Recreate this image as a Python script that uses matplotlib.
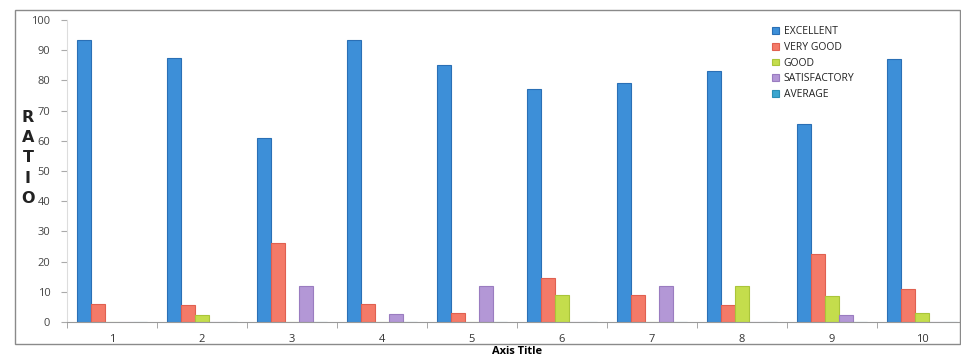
import numpy as np
import matplotlib
matplotlib.use("Agg")
import matplotlib.pyplot as plt
from matplotlib.patches import Rectangle

plt.rcParams["font.family"] = ["Open Sans", "DejaVu Sans"]

categories = ["1", "2", "3", "4", "5", "6", "7", "8", "9", "10"]
series_names = ["EXCELLENT", "VERY GOOD", "GOOD", "SATISFACTORY", "AVERAGE"]
excellent    = [93.5, 87.5, 61, 93.5, 85, 77, 79, 83, 65.5, 87]
very_good    = [6, 5.5, 26, 6, 3, 14.5, 9, 5.5, 22.5, 11]
good         = [0, 2.3, 0, 0, 0, 9, 0, 12, 8.5, 3]
satisfactory = [0, 0, 12, 2.7, 12, 0, 12, 0, 2.3, 0]
average      = [0, 0, 0, 0, 0, 0, 0, 0, 0, 0]
colors = ["#3d8fd8", "#f47a68", "#c4dd4c", "#b397d6", "#3aa6d0"]
edges  = ["#2a6fb5", "#e06050", "#aac53a", "#9a7cc0", "#2a8fb5"]

fig = plt.figure(figsize=(9.62, 3.6), dpi=100)
fig.patch.set_facecolor("white")

# outer chart frame
fig.add_artist(Rectangle((15 / 962, (360 - 344) / 360), 945 / 962, 334 / 360,
                         transform=fig.transFigure, fill=False,
                         edgecolor="#8a8a8a", lw=1.0))

ax = fig.add_axes([67 / 962, (360 - 322) / 360, 900 / 962, 302 / 360])

x = np.arange(1, len(categories) + 1)
w = 0.156
all_series = [excellent, very_good, good, satisfactory, average]
for i, vals in enumerate(all_series):
    ax.bar(x + (i - 2) * w, vals, width=w, color=colors[i],
           edgecolor=edges[i], linewidth=0.8, label=series_names[i])

ax.set_xlim(0.5, 10.5)
ax.set_ylim(0, 100)
ax.set_yticks(range(0, 101, 10))
ax.set_xticks(x)
ax.set_xticklabels(categories)
ax.set_xticks(np.arange(0.5, 11, 1), minor=True)
ax.tick_params(axis="x", which="major", length=0, pad=9,
               labelsize=8, labelcolor="#333333")
ax.tick_params(axis="x", which="minor", length=4, color="#999999")
ax.tick_params(axis="y", length=4, color="#aaaaaa", labelsize=8,
               labelcolor="#444444", pad=8)

for s in ["top", "right"]:
    ax.spines[s].set_visible(False)
ax.spines["left"].set_color("#dddddd")
ax.spines["bottom"].set_color("#999999")

ax.set_xlabel("Axis Title", fontsize=8, fontweight="bold", labelpad=0)

fig.text(28 / 962, 1 - 158 / 360, "R\nA\nT\nI\nO", ha="center", va="center",
         fontsize=11.5, fontweight="bold", linespacing=1.45, color="#222222",
         family=["DejaVu Sans"])

leg = ax.legend(loc="upper left", bbox_to_anchor=((763 - 67) / 900, 1.01),
                frameon=False, fontsize=7.5, handlelength=0.6, handleheight=0.6,
                handletextpad=0.5, labelspacing=0.45)
for t in leg.get_texts():
    t.set_color("#222222")

fig.savefig("out.png", dpi=100)
